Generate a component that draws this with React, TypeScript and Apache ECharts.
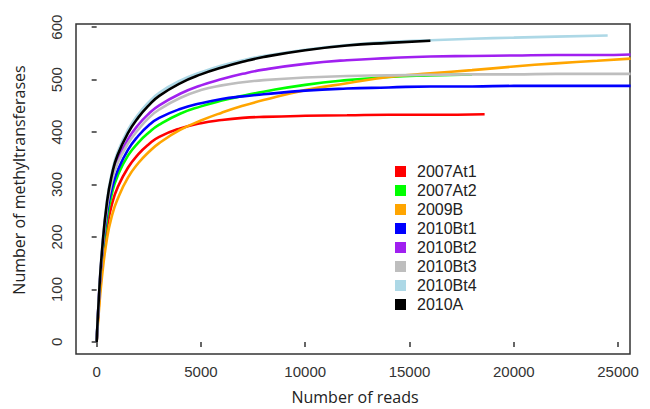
import React, { useEffect, useRef } from "react";
import * as echarts from "echarts";

const seriesNames = ["2007At1", "2007At2", "2009B", "2010Bt1", "2010Bt2", "2010Bt3", "2010Bt4", "2010A"];
const seriesColors = ["#FF0000", "#00FF00", "#FFA500", "#0000FF", "#A020F0", "#BEBEBE", "#ADD8E6", "#000000"];

const readsBase = [0, 100, 250, 500, 750, 1000, 1500, 2000, 2500, 3000, 4000, 5000, 6000, 7000, 8000, 10000, 12000, 14000, 16000];
const readsRed = [...readsBase, 18600];
const readsGreen = [...readsBase, 18000];
const readsLong = [...readsBase, 18000, 20000, 22000, 24000, 25600];
const readsLightBlue = [...readsBase, 18000, 20000, 22000, 24500];
const readsBlack = readsBase;

const red = [0, 66, 140, 220, 265, 294, 332, 358, 377, 391, 407, 417, 423, 427, 429, 431, 432, 433, 433, 434];
const green = [0, 72, 152, 236, 286, 316, 355, 380, 399, 414, 435, 449, 460, 469, 477, 490, 499, 505, 508, 510];
const orange = [0, 55, 122, 198, 243, 272, 313, 341, 362, 379, 404, 422, 437, 450, 461, 480, 493, 505, 512, 518, 525, 531, 536, 540];
const blue = [0, 76, 160, 248, 296, 326, 366, 393, 413, 427, 444, 455, 463, 468, 472, 479, 483, 485, 487, 487, 488, 488, 488, 488];
const purple = [0, 79, 167, 262, 314, 346, 386, 414, 435, 451, 473, 489, 501, 511, 519, 530, 537, 541, 544, 545, 546, 547, 547, 548];
const gray = [0, 78, 165, 258, 309, 340, 378, 405, 427, 443, 465, 480, 489, 495, 499, 504, 507, 508, 509, 510, 510, 511, 511, 511];
const lightBlue = [0, 81, 172, 271, 326, 361, 404, 434, 457, 475, 498, 514, 527, 537, 545, 557, 566, 572, 575, 578, 580, 582, 584];
const black = [0, 80, 170, 268, 322, 356, 398, 428, 451, 469, 493, 510, 523, 534, 543, 556, 565, 570, 574];

const seriesReads = [readsRed, readsGreen, readsLong, readsLong, readsLong, readsLong, readsLightBlue, readsBlack];
const seriesValues = [red, green, orange, blue, purple, gray, lightBlue, black];

const xTicks = [0, 5000, 10000, 15000, 20000, 25000];
const yTicks = [0, 100, 200, 300, 400, 500, 600];

const xTitle = "Number of reads";
const yTitle = "Number of methyltransferases";

export default function App() {
  const ref = useRef<HTMLDivElement>(null);
  useEffect(() => {
    if (!ref.current) return;
    const chart = echarts.init(ref.current, null, { renderer: "svg" });
    const tickFont = "'Liberation Sans', Arial, sans-serif";
    const titleFont = "'Open Sans', 'Noto Sans', sans-serif";
    chart.setOption({
      animation: false,
      backgroundColor: "#ffffff",
      grid: {
        left: 76,
        right: 20,
        top: 24,
        bottom: 55,
        show: true,
        borderColor: "#333",
        borderWidth: 1.5,
        backgroundColor: "transparent",
      },
      xAxis: {
        type: "value",
        min: -990,
        max: 25570,
        splitLine: { show: false },
        axisLine: { show: false },
        axisTick: {
          show: true,
          inside: false,
          length: 5,
          customValues: xTicks,
          lineStyle: { color: "#333", width: 1.5 },
        },
        axisLabel: {
          customValues: xTicks,
          formatter: (v: number) => String(v),
          margin: 10,
          fontSize: 15,
          fontFamily: tickFont,
          color: "#333",
        },
      },
      yAxis: {
        type: "value",
        min: -23,
        max: 606,
        splitLine: { show: false },
        axisLine: { show: false },
        axisTick: {
          show: true,
          inside: false,
          length: 5,
          customValues: yTicks,
          lineStyle: { color: "#333", width: 1.5 },
        },
        axisLabel: {
          customValues: yTicks,
          formatter: (v: number) => String(v),
          rotate: 90,
          margin: 12,
          fontSize: 15,
          fontFamily: tickFont,
          color: "#333",
        },
      },
      legend: {
        orient: "vertical",
        left: 390,
        top: 158,
        itemWidth: 23,
        itemHeight: 11,
        itemGap: 2,
        icon: "path://M0 0H10V10H0Z",
        textStyle: {
          fontSize: 16,
          lineHeight: 17,
          fontFamily: tickFont,
          color: "#222",
        },
        data: seriesNames,
      },
      series: seriesNames.map((name, i) => ({
        name,
        type: "line",
        data: seriesReads[i].map((r, j) => [r, seriesValues[i][j]]),
        showSymbol: false,
        smooth: 0.5,
        clip: true,
        color: seriesColors[i],
        lineStyle: { color: seriesColors[i], width: 2.6 },
        itemStyle: { color: seriesColors[i] },
      })),
      graphic: [
        {
          type: "text",
          x: 355,
          y: 397,
          style: {
            text: xTitle,
            fontSize: 16,
            fontFamily: titleFont,
            fill: "#222",
            align: "center",
            verticalAlign: "middle",
          },
        },
        {
          type: "text",
          x: 19,
          y: 180,
          rotation: Math.PI / 2,
          style: {
            text: yTitle,
            fontSize: 16,
            fontFamily: titleFont,
            fill: "#222",
            align: "center",
            verticalAlign: "middle",
          },
        },
      ],
    });
    return () => chart.dispose();
  }, []);
  return (
    <div
      ref={ref}
      style={{ position: "fixed", left: 0, top: 0, width: 650, height: 409 }}
    />
  );
}
